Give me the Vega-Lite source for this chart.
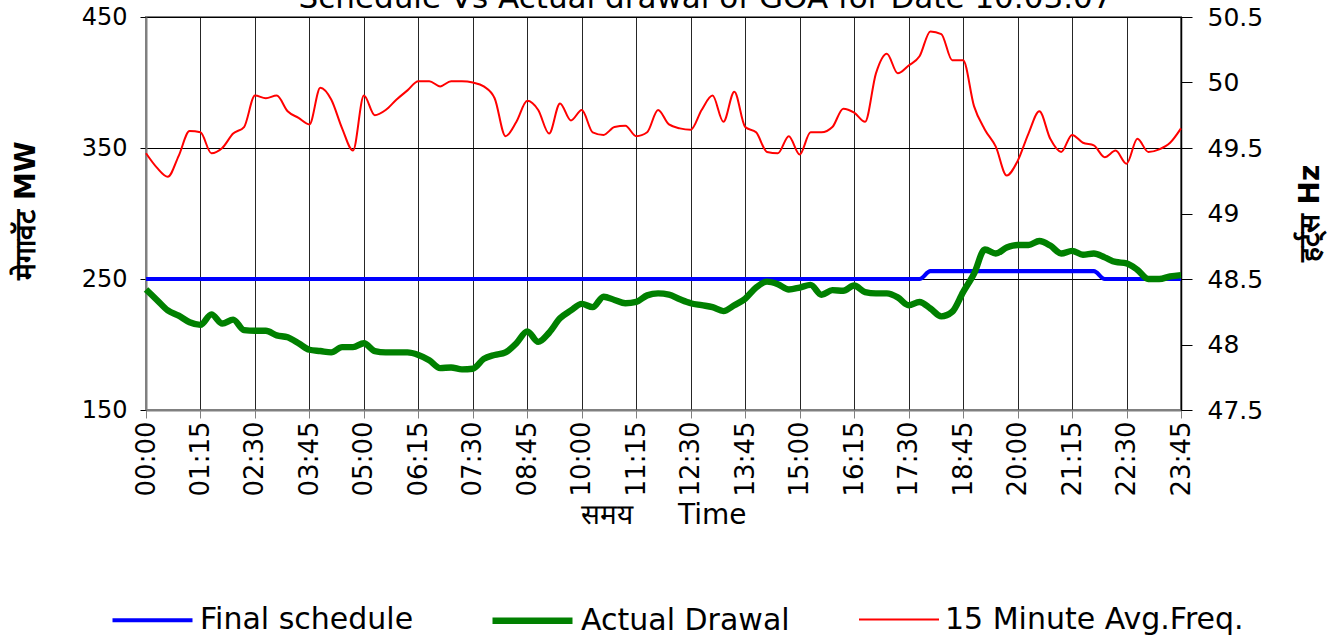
{
  "$schema": "https://vega.github.io/schema/vega-lite/v6.json",
  "width": 1035,
  "height": 393,
  "autosize": {"type": "none"},
  "padding": {"left": 146, "top": 17, "right": 162, "bottom": 229},
  "background": "white",
  "config": {
    "font": "DejaVu Sans",
    "view": {"stroke": "#808080", "strokeWidth": 2},
    "axis": {"labelColor": "black", "titleColor": "black", "labelFont": "DejaVu Sans", "titleFont": "DejaVu Sans"}
  },
  "title": {
    "text": "Schedule Vs Actual drawal of GOA for Date 10.03.07",
    "fontSize": 31,
    "font": "DejaVu Sans",
    "fontWeight": "normal",
    "color": "black",
    "offset": -10,
    "dx": 42
  },
  "data": {
    "values": [
      {"time": "00:00", "schedule": 250, "actual": 242, "freq": 49.46},
      {"time": "00:15", "schedule": 250, "actual": 234, "freq": 49.35},
      {"time": "00:30", "schedule": 250, "actual": 226, "freq": 49.28},
      {"time": "00:45", "schedule": 250, "actual": 222, "freq": 49.44},
      {"time": "01:00", "schedule": 250, "actual": 217, "freq": 49.63},
      {"time": "01:15", "schedule": 250, "actual": 215, "freq": 49.62},
      {"time": "01:30", "schedule": 250, "actual": 223, "freq": 49.46},
      {"time": "01:45", "schedule": 250, "actual": 216, "freq": 49.50},
      {"time": "02:00", "schedule": 250, "actual": 219, "freq": 49.61},
      {"time": "02:15", "schedule": 250, "actual": 211, "freq": 49.66},
      {"time": "02:30", "schedule": 250, "actual": 210.5, "freq": 49.90},
      {"time": "02:45", "schedule": 250, "actual": 210.5, "freq": 49.88},
      {"time": "03:00", "schedule": 250, "actual": 207, "freq": 49.90},
      {"time": "03:15", "schedule": 250, "actual": 205.5, "freq": 49.78},
      {"time": "03:30", "schedule": 250, "actual": 201, "freq": 49.73},
      {"time": "03:45", "schedule": 250, "actual": 196, "freq": 49.68},
      {"time": "04:00", "schedule": 250, "actual": 195, "freq": 49.96},
      {"time": "04:15", "schedule": 250, "actual": 194, "freq": 49.87},
      {"time": "04:30", "schedule": 250, "actual": 198, "freq": 49.65},
      {"time": "04:45", "schedule": 250, "actual": 198, "freq": 49.48},
      {"time": "05:00", "schedule": 250, "actual": 201, "freq": 49.90},
      {"time": "05:15", "schedule": 250, "actual": 195, "freq": 49.75},
      {"time": "05:30", "schedule": 250, "actual": 194, "freq": 49.79},
      {"time": "05:45", "schedule": 250, "actual": 194, "freq": 49.87},
      {"time": "06:00", "schedule": 250, "actual": 194, "freq": 49.94},
      {"time": "06:15", "schedule": 250, "actual": 192, "freq": 50.01},
      {"time": "06:30", "schedule": 250, "actual": 188, "freq": 50.01},
      {"time": "06:45", "schedule": 250, "actual": 182, "freq": 49.97},
      {"time": "07:00", "schedule": 250, "actual": 182.5, "freq": 50.01},
      {"time": "07:15", "schedule": 250, "actual": 181, "freq": 50.01},
      {"time": "07:30", "schedule": 250, "actual": 181.5, "freq": 50.00},
      {"time": "07:45", "schedule": 250, "actual": 189, "freq": 49.97},
      {"time": "08:00", "schedule": 250, "actual": 192, "freq": 49.88},
      {"time": "08:15", "schedule": 250, "actual": 194, "freq": 49.59},
      {"time": "08:30", "schedule": 250, "actual": 201, "freq": 49.70},
      {"time": "08:45", "schedule": 250, "actual": 210, "freq": 49.86},
      {"time": "09:00", "schedule": 250, "actual": 202, "freq": 49.79},
      {"time": "09:15", "schedule": 250, "actual": 209, "freq": 49.61},
      {"time": "09:30", "schedule": 250, "actual": 220, "freq": 49.84},
      {"time": "09:45", "schedule": 250, "actual": 226, "freq": 49.71},
      {"time": "10:00", "schedule": 250, "actual": 231, "freq": 49.79},
      {"time": "10:15", "schedule": 250, "actual": 228.5, "freq": 49.62},
      {"time": "10:30", "schedule": 250, "actual": 236.5, "freq": 49.60},
      {"time": "10:45", "schedule": 250, "actual": 234, "freq": 49.66},
      {"time": "11:00", "schedule": 250, "actual": 231.5, "freq": 49.67},
      {"time": "11:15", "schedule": 250, "actual": 232.5, "freq": 49.59},
      {"time": "11:30", "schedule": 250, "actual": 237.5, "freq": 49.62},
      {"time": "11:45", "schedule": 250, "actual": 239, "freq": 49.79},
      {"time": "12:00", "schedule": 250, "actual": 238, "freq": 49.68},
      {"time": "12:15", "schedule": 250, "actual": 234.5, "freq": 49.65},
      {"time": "12:30", "schedule": 250, "actual": 231.5, "freq": 49.64},
      {"time": "12:45", "schedule": 250, "actual": 230, "freq": 49.79},
      {"time": "13:00", "schedule": 250, "actual": 228.5, "freq": 49.90},
      {"time": "13:15", "schedule": 250, "actual": 225.5, "freq": 49.70},
      {"time": "13:30", "schedule": 250, "actual": 230, "freq": 49.93},
      {"time": "13:45", "schedule": 250, "actual": 235, "freq": 49.66},
      {"time": "14:00", "schedule": 250, "actual": 243.5, "freq": 49.62},
      {"time": "14:15", "schedule": 250, "actual": 248, "freq": 49.47},
      {"time": "14:30", "schedule": 250, "actual": 246, "freq": 49.46},
      {"time": "14:45", "schedule": 250, "actual": 242, "freq": 49.59},
      {"time": "15:00", "schedule": 250, "actual": 243.5, "freq": 49.45},
      {"time": "15:15", "schedule": 250, "actual": 245.5, "freq": 49.62},
      {"time": "15:30", "schedule": 250, "actual": 238, "freq": 49.62},
      {"time": "15:45", "schedule": 250, "actual": 241.5, "freq": 49.66},
      {"time": "16:00", "schedule": 250, "actual": 241, "freq": 49.80},
      {"time": "16:15", "schedule": 250, "actual": 245, "freq": 49.77},
      {"time": "16:30", "schedule": 250, "actual": 240, "freq": 49.70},
      {"time": "16:45", "schedule": 250, "actual": 239, "freq": 50.07},
      {"time": "17:00", "schedule": 250, "actual": 239, "freq": 50.22},
      {"time": "17:15", "schedule": 250, "actual": 236, "freq": 50.07},
      {"time": "17:30", "schedule": 250, "actual": 230, "freq": 50.13},
      {"time": "17:45", "schedule": 250, "actual": 232.5, "freq": 50.20},
      {"time": "18:00", "schedule": 256, "actual": 227.5, "freq": 50.39},
      {"time": "18:15", "schedule": 256, "actual": 221.5, "freq": 50.37},
      {"time": "18:30", "schedule": 256, "actual": 225, "freq": 50.17},
      {"time": "18:45", "schedule": 256, "actual": 240, "freq": 50.17},
      {"time": "19:00", "schedule": 256, "actual": 254, "freq": 49.82},
      {"time": "19:15", "schedule": 256, "actual": 272.5, "freq": 49.64},
      {"time": "19:30", "schedule": 256, "actual": 269.5, "freq": 49.51},
      {"time": "19:45", "schedule": 256, "actual": 274, "freq": 49.29},
      {"time": "20:00", "schedule": 256, "actual": 276, "freq": 49.40},
      {"time": "20:15", "schedule": 256, "actual": 276, "freq": 49.61},
      {"time": "20:30", "schedule": 256, "actual": 279, "freq": 49.78},
      {"time": "20:45", "schedule": 256, "actual": 275.5, "freq": 49.57},
      {"time": "21:00", "schedule": 256, "actual": 269.5, "freq": 49.47},
      {"time": "21:15", "schedule": 256, "actual": 271.5, "freq": 49.60},
      {"time": "21:30", "schedule": 256, "actual": 268.5, "freq": 49.54},
      {"time": "21:45", "schedule": 256, "actual": 269.5, "freq": 49.52},
      {"time": "22:00", "schedule": 250, "actual": 266.5, "freq": 49.43},
      {"time": "22:15", "schedule": 250, "actual": 263, "freq": 49.48},
      {"time": "22:30", "schedule": 250, "actual": 262, "freq": 49.38},
      {"time": "22:45", "schedule": 250, "actual": 257, "freq": 49.57},
      {"time": "23:00", "schedule": 250, "actual": 250, "freq": 49.47},
      {"time": "23:15", "schedule": 250, "actual": 250, "freq": 49.49},
      {"time": "23:30", "schedule": 250, "actual": 252, "freq": 49.54},
      {"time": "23:45", "schedule": 250, "actual": 253, "freq": 49.65}
    ]
  },
  "layer": [
    {
      "transform": [{"fold": ["schedule", "actual"], "as": ["series", "mw"]}],
      "mark": {"type": "line", "interpolate": "monotone"},
      "encoding": {
        "x": {
          "field": "time",
          "type": "ordinal",
          "sort": null,
          "scale": {"type": "point", "padding": 0},
          "axis": {
            "values": ["00:00", "01:15", "02:30", "03:45", "05:00", "06:15", "07:30", "08:45", "10:00", "11:15", "12:30", "13:45", "15:00", "16:15", "17:30", "18:45", "20:00", "21:15", "22:30", "23:45"],
            "labelAngle": 270,
            "labelFontSize": 26,
            "labelPadding": 3,
            "tickSize": 8,
            "tickColor": "#808080",
            "domainColor": "#808080",
            "domainWidth": 2,
            "grid": true,
            "gridColor": "black",
            "gridOpacity": 0.85,
            "gridWidth": 1,
            "title": "समय\u00a0\u00a0\u00a0\u00a0 Time",
            "titleFontSize": 28,
            "titleFontWeight": "normal",
            "titleY": 105,
            "titleBaseline": "middle"
          }
        },
        "y": {
          "field": "mw",
          "type": "quantitative",
          "scale": {"domain": [150, 450], "nice": false, "zero": false},
          "axis": {
            "values": [150, 250, 350, 450],
            "labelFontSize": 24,
            "labelPadding": 13,
            "tickSize": 6,
            "tickColor": "black",
            "domainColor": "#808080",
            "domainWidth": 2,
            "grid": true,
            "gridColor": "black",
            "gridOpacity": 1,
            "gridWidth": 1,
            "title": "मेगावॅट MW",
            "titleFontSize": 28,
            "titleFontWeight": "bold",
            "titleAngle": 270,
            "titleAlign": "center",
            "titleBaseline": "middle",
            "titleX": -120,
            "titleY": 193
          }
        },
        "color": {
          "field": "series",
          "type": "nominal",
          "scale": {"domain": ["freq", "schedule", "actual"], "range": ["#FF0000", "#0000FF", "#008000"]},
          "legend": {
            "orient": "none",
            "legendX": -36,
            "legendY": 560,
            "direction": "horizontal",
            "title": null,
            "values": ["schedule", "actual", "freq"],
            "symbolType": "stroke",
            "symbolSize": 6400,
            "labelFontSize": 30,
            "labelFont": "DejaVu Sans",
            "labelColor": "black",
            "labelLimit": 0,
            "labelOffset": 5,
            "columnPadding": 65,
            "padding": 0,
            "labelExpr": "datum.label == 'schedule' ? 'Final schedule' : datum.label == 'actual' ? 'Actual Drawal' : '15 Minute Avg.Freq.'"
          }
        },
        "strokeWidth": {
          "field": "series",
          "type": "nominal",
          "scale": {"type": "point", "padding": 0, "domain": ["freq", "schedule", "actual"], "range": [2, 6.4]},
          "legend": {
            "orient": "none",
            "legendX": -36,
            "legendY": 560,
            "direction": "horizontal",
            "title": null,
            "values": ["schedule", "actual", "freq"],
            "symbolType": "stroke",
            "symbolSize": 6400,
            "labelFontSize": 30,
            "labelFont": "DejaVu Sans",
            "labelColor": "black",
            "labelLimit": 0,
            "labelOffset": 5,
            "columnPadding": 65,
            "padding": 0,
            "labelExpr": "datum.label == 'schedule' ? 'Final schedule' : datum.label == 'actual' ? 'Actual Drawal' : '15 Minute Avg.Freq.'"
          }
        }
      }
    },
    {
      "mark": {"type": "line", "interpolate": "monotone"},
      "encoding": {
        "x": {"field": "time", "type": "ordinal", "sort": null},
        "y": {
          "field": "freq",
          "type": "quantitative",
          "scale": {"domain": [47.5, 50.5], "nice": false, "zero": false},
          "axis": {
            "orient": "right",
            "values": [47.5, 48, 48.5, 49, 49.5, 50, 50.5],
            "format": "~g",
            "labelFontSize": 25,
            "labelPadding": 15,
            "tickSize": 11,
            "tickColor": "black",
            "domainColor": "black",
            "domainWidth": 1.5,
            "grid": false,
            "title": "हर्ट्स Hz",
            "titleFontSize": 28,
            "titleFontWeight": "bold",
            "titleAngle": 270,
            "titleAlign": "center",
            "titleBaseline": "middle",
            "titleX": 129,
            "titleY": 196
          }
        },
        "color": {"datum": "freq"},
        "strokeWidth": {"datum": "freq"}
      }
    }
  ],
  "resolve": {"scale": {"y": "independent"}}
}
